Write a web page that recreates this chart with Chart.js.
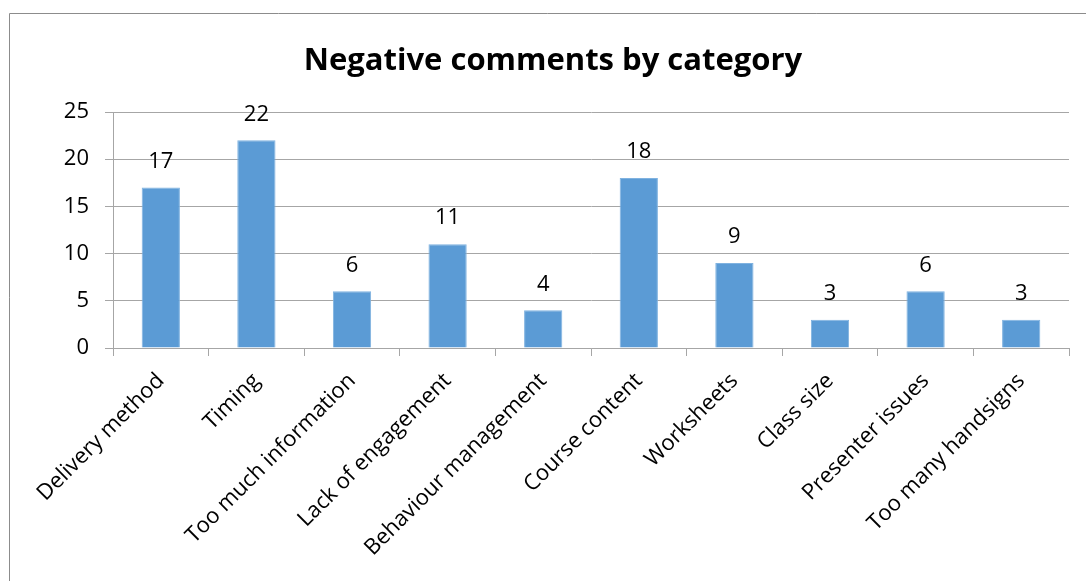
<!DOCTYPE html>
<html>
<head>
<meta charset="utf-8">
<script src="https://cdn.jsdelivr.net/npm/chart.js@4.4.1/dist/chart.umd.min.js"></script>
<style>
  html, body { margin: 0; padding: 0; background: #fff; overflow: hidden; }
  #wrap { position: absolute; left: 0; top: 0; width: 1086px; height: 581px; }
</style>
</head>
<body>
<div id="wrap"><canvas id="commentsChart"></canvas></div>
<script>
const categories = [
  'Delivery method', 'Timing', 'Too much information', 'Lack of engagement',
  'Behaviour management', 'Course content', 'Worksheets', 'Class size',
  'Presenter issues', 'Too many handsigns'
];
const commentCounts = [17, 22, 6, 11, 4, 18, 9, 3, 6, 3];
const yTicks = [0, 5, 10, 15, 20, 25];
const chartTitle = 'Negative comments by category';

const FONT = "'Open Sans', 'DejaVu Sans', sans-serif";

// outer frame + title, drawn straight onto the canvas
const framePlugin = {
  id: 'frame',
  beforeDraw(chart) {
    const ctx = chart.ctx;
    ctx.save();
    ctx.strokeStyle = '#8c8c8c';
    ctx.lineWidth = 1;
    ctx.beginPath();
    ctx.moveTo(9.5, 581);
    ctx.lineTo(9.5, 13.5);
    ctx.lineTo(1086, 13.5);
    ctx.stroke();
    ctx.fillStyle = '#000';
    ctx.font = 'bold 31px ' + FONT;
    ctx.textAlign = 'center';
    ctx.textBaseline = 'alphabetic';
    ctx.fillText(chartTitle, 553, 70);
    ctx.restore();
  }
};

// value labels above each bar
const valueLabels = {
  id: 'valueLabels',
  afterDatasetsDraw(chart) {
    const ctx = chart.ctx;
    const meta = chart.getDatasetMeta(0);
    ctx.save();
    ctx.fillStyle = '#000';
    ctx.font = '22px ' + FONT;
    ctx.textAlign = 'center';
    ctx.textBaseline = 'middle';
    meta.data.forEach((bar, i) => {
      ctx.fillText(String(commentCounts[i]), bar.x, bar.y - 26);
    });
    ctx.restore();
  }
};

new Chart(document.getElementById('commentsChart'), {
  type: 'bar',
  data: {
    labels: categories,
    datasets: [{
      data: commentCounts,
      backgroundColor: '#5b9bd5',
      borderColor: '#7fb2e0',
      borderWidth: 1,
      categoryPercentage: 0.8,
      barPercentage: 0.5
    }]
  },
  options: {
    responsive: true,
    maintainAspectRatio: false,
    animation: false,
    layout: { padding: { top: 112, left: 0, right: 17, bottom: 0 } },
    plugins: {
      legend: { display: false },
      title: { display: false },
      tooltip: { enabled: false }
    },
    scales: {
      x: {
        grid: {
          offset: true,
          drawOnChartArea: false,
          drawTicks: true,
          tickLength: 8,
          color: '#a6a6a6'
        },
        border: { color: '#a6a6a6', width: 1 },
        ticks: {
          color: '#000',
          font: { family: FONT, size: 22 },
          minRotation: 45,
          maxRotation: 45,
          padding: 12,
          autoSkip: false
        },
        afterFit(scale) { scale.height = 581 - 348; }
      },
      y: {
        min: 0,
        max: 25,
        afterBuildTicks(scale) { scale.ticks = yTicks.map(v => ({ value: v })); },
        grid: { color: '#a6a6a6', tickLength: 8 },
        border: { color: '#a6a6a6', width: 1 },
        ticks: {
          color: '#000',
          font: { family: FONT, size: 22 },
          padding: 16
        },
        afterFit(scale) { scale.width = 113; }
      }
    }
  },
  plugins: [framePlugin, valueLabels]
});
</script>
</body>
</html>
